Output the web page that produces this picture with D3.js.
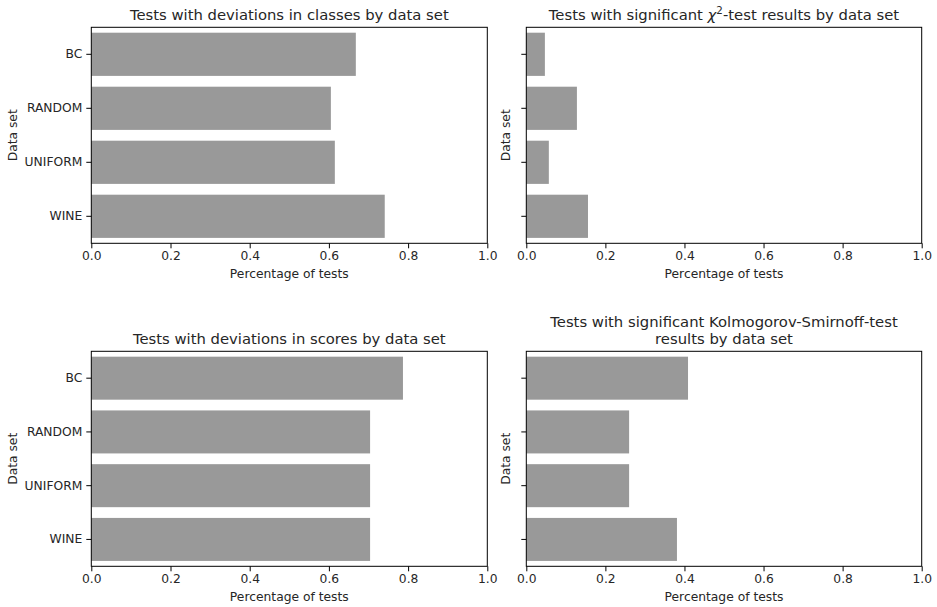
<!DOCTYPE html>
<html>
<head>
<meta charset="utf-8">
<script src="https://cdn.jsdelivr.net/npm/d3@7"></script>
<style>
  html, body { margin: 0; padding: 0; background: #fff; }
  svg text { font-family: "DejaVu Sans", sans-serif; fill: #262626; }
</style>
</head>
<body>
<svg id="chart" width="937" height="607"></svg>
<script>
// Data sets shown on every panel
const datasets = ["BC", "RANDOM", "UNIFORM", "WINE"];

// Share of tests per data set, one array per panel
const classDeviations = [0.668, 0.605, 0.615, 0.741];
const chiSquareSignificant = [0.047, 0.128, 0.057, 0.156];
const scoreDeviations = [0.787, 0.704, 0.704, 0.704];
const ksSignificant = [0.409, 0.260, 0.260, 0.381];

const xTicks = [0, 0.2, 0.4, 0.6, 0.8, 1.0];
const xLabel = "Percentage of tests";
const yLabel = "Data set";

const panels = [
  { values: classDeviations, title: ["Tests with deviations in classes by data set"],
    box: [91.3, 27.3, 487.3, 243.3], yLabels: true, chi: false },
  { values: chiSquareSignificant, title: null,
    box: [526.3, 27.3, 921.7, 243.3], yLabels: false, chi: true },
  { values: scoreDeviations, title: ["Tests with deviations in scores by data set"],
    box: [91.3, 351.3, 487.3, 566.3], yLabels: true, chi: false },
  { values: ksSignificant, title: ["Tests with significant Kolmogorov-Smirnoff-test", "results by data set"],
    box: [526.3, 351.3, 921.7, 566.3], yLabels: false, chi: false }
];

const svg = d3.select("#chart");
const barColor = "#999999";
const tickFont = 12.3;
const titleFont = 14.8;

panels.forEach(p => {
  const [x0, y0, x1, y1] = p.box;
  const g = svg.append("g");

  const x = d3.scaleLinear().domain([0, 1]).range([x0, x1]);
  const y = d3.scaleBand().domain(datasets).range([y0, y1])
    .paddingInner(0.2).paddingOuter(0.1);

  // bars
  g.selectAll("rect.bar")
    .data(datasets.map((d, i) => ({ name: d, value: p.values[i] })))
    .join("rect")
    .attr("class", "bar")
    .attr("x", x(0))
    .attr("y", d => y(d.name))
    .attr("width", d => x(d.value) - x(0))
    .attr("height", y.bandwidth())
    .attr("fill", barColor);

  // frame
  g.append("rect")
    .attr("x", x0).attr("y", y0)
    .attr("width", x1 - x0).attr("height", y1 - y0)
    .attr("fill", "none").attr("stroke", "#000").attr("stroke-width", 1);

  // x axis
  const xAxis = d3.axisBottom(x).tickValues(xTicks).tickFormat(d3.format(".1f"))
    .tickSize(5).tickPadding(3);
  const gx = g.append("g").attr("transform", `translate(0,${y1})`).call(xAxis);
  gx.select(".domain").remove();
  gx.selectAll(".tick line").attr("stroke", "#000");
  gx.selectAll(".tick text").attr("font-size", tickFont).attr("fill", "#262626")
    .attr("font-family", "DejaVu Sans");

  // y axis
  const yAxis = d3.axisLeft(y).tickSize(5).tickPadding(4);
  if (!p.yLabels) yAxis.tickFormat(() => "");
  const gy = g.append("g").attr("transform", `translate(${x0},0)`).call(yAxis);
  gy.select(".domain").remove();
  gy.selectAll(".tick line").attr("stroke", "#000");
  gy.selectAll(".tick text").attr("font-size", tickFont).attr("fill", "#262626")
    .attr("font-family", "DejaVu Sans");

  // axis titles
  g.append("text")
    .attr("x", (x0 + x1) / 2).attr("y", y1 + 35)
    .attr("text-anchor", "middle").attr("font-size", tickFont)
    .text(xLabel);

  const yLabelX = p.yLabels ? 13.5 : x0 - 20;
  g.append("text")
    .attr("transform", `translate(${yLabelX},${(y0 + y1) / 2}) rotate(-90)`)
    .attr("text-anchor", "middle").attr("dominant-baseline", "middle")
    .attr("font-size", tickFont)
    .text(yLabel);

  // panel title
  const cx = (x0 + x1) / 2;
  if (p.chi) {
    const t = g.append("text")
      .attr("x", cx).attr("y", y0 - 7.5)
      .attr("text-anchor", "middle").attr("font-size", titleFont);
    t.append("tspan").text("Tests with significant ");
    t.append("tspan").attr("font-style", "italic").text("χ");
    t.append("tspan").attr("font-size", 10.3).attr("dy", -6).text("2");
    t.append("tspan").attr("dy", 6).text("-test results by data set");
  } else {
    const lines = p.title;
    lines.forEach((line, i) => {
      g.append("text")
        .attr("x", cx)
        .attr("y", y0 - 7.5 - (lines.length - 1 - i) * 16.8)
        .attr("text-anchor", "middle").attr("font-size", titleFont)
        .text(line);
    });
  }
});
</script>
</body>
</html>
